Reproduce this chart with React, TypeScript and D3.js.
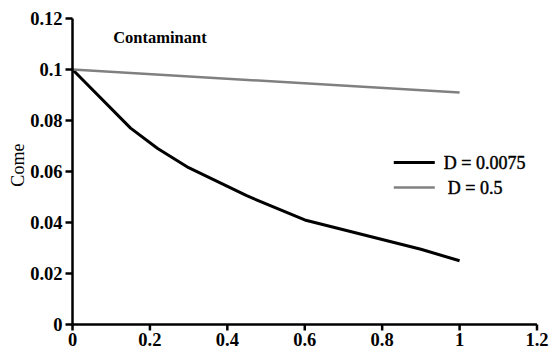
import * as d3 from 'd3';

const xTicks = [0, 0.2, 0.4, 0.6, 0.8, 1, 1.2];
const yTicks = [0, 0.02, 0.04, 0.06, 0.08, 0.1, 0.12];

const lowDx = [0, 0.15, 0.22, 0.3, 0.45, 0.6, 0.9, 1];
const lowDy = [0.1, 0.077, 0.069, 0.0615, 0.0505, 0.041, 0.0295, 0.025];

const highDx = [0, 1];
const highDy = [0.1, 0.091];

const series = [
  { label: 'D = 0.0075', xs: lowDx, ys: lowDy, color: '#000000', width: 3 },
  { label: 'D = 0.5', xs: highDx, ys: highDy, color: '#808080', width: 2.5 },
];

const font = "'Liberation Serif', 'Times New Roman', serif";

export default function App() {
  const width = 550;
  const height = 352;
  const margin = { top: 18.5, right: 13, bottom: 27.5, left: 72.5 };
  const innerW = width - margin.left - margin.right;
  const innerH = height - margin.top - margin.bottom;

  const x = d3.scaleLinear().domain([0, 1.2]).range([0, innerW]);
  const y = d3.scaleLinear().domain([0, 0.12]).range([innerH, 0]);

  const line = d3
    .line<[number, number]>()
    .x((d) => x(d[0]))
    .y((d) => y(d[1]));

  const fmt = (v: number) => String(+v.toFixed(2));

  return (
    <svg
      width={width}
      height={height}
      style={{ position: 'absolute', left: 0, top: 0, background: '#fff' }}
      fontFamily={font}
    >
      <g transform={`translate(${margin.left},${margin.top})`}>
        {/* data lines */}
        {series.map((s) => (
          <path
            key={s.label}
            d={line(s.xs.map((v, i) => [v, s.ys[i]] as [number, number])) ?? ''}
            fill="none"
            stroke={s.color}
            strokeWidth={s.width}
            strokeLinejoin="round"
          />
        ))}

        {/* y axis */}
        <line x1={0} x2={0} y1={0} y2={innerH} stroke="#000" strokeWidth={2.5} />
        {yTicks.map((t) => (
          <g key={t} transform={`translate(0,${y(t)})`}>
            <line x1={-7} x2={0} stroke="#000" strokeWidth={2.5} />
            <text x={-10} dy="0.34em" textAnchor="end" fontSize={18.5} fontWeight="bold">
              {fmt(t)}
            </text>
          </g>
        ))}

        {/* x axis */}
        <line x1={0} x2={innerW} y1={innerH} y2={innerH} stroke="#000" strokeWidth={2.5} />
        {xTicks.map((t) => (
          <g key={t} transform={`translate(${x(t)},${innerH})`}>
            <line y1={0} y2={6} stroke="#000" strokeWidth={2.5} />
            <text y={21} textAnchor="middle" fontSize={18.5} fontWeight="bold">
              {fmt(t)}
            </text>
          </g>
        ))}

        <text x={x(0.105)} y={y(0.1105)} fontSize={16.5} fontWeight="bold">
          Contaminant
        </text>

        {/* legend */}
        {series.map((s, i) => (
          <g key={s.label} transform={`translate(${x(0.83)},${y(0.0635 - i * 0.0098)})`}>
            <line x1={0} x2={41} stroke={s.color} strokeWidth={s.width} />
            <text
              x={50 + i * 4}
              dy="0.34em"
              fontSize={18}
              stroke="#000"
              strokeWidth={0.45}
            >
              {s.label}
            </text>
          </g>
        ))}

        <text
          transform={`translate(${-48.5},${y(0.0625)}) rotate(-90)`}
          textAnchor="middle"
          fontSize={18}
        >
          Come
        </text>
      </g>
    </svg>
  );
}
